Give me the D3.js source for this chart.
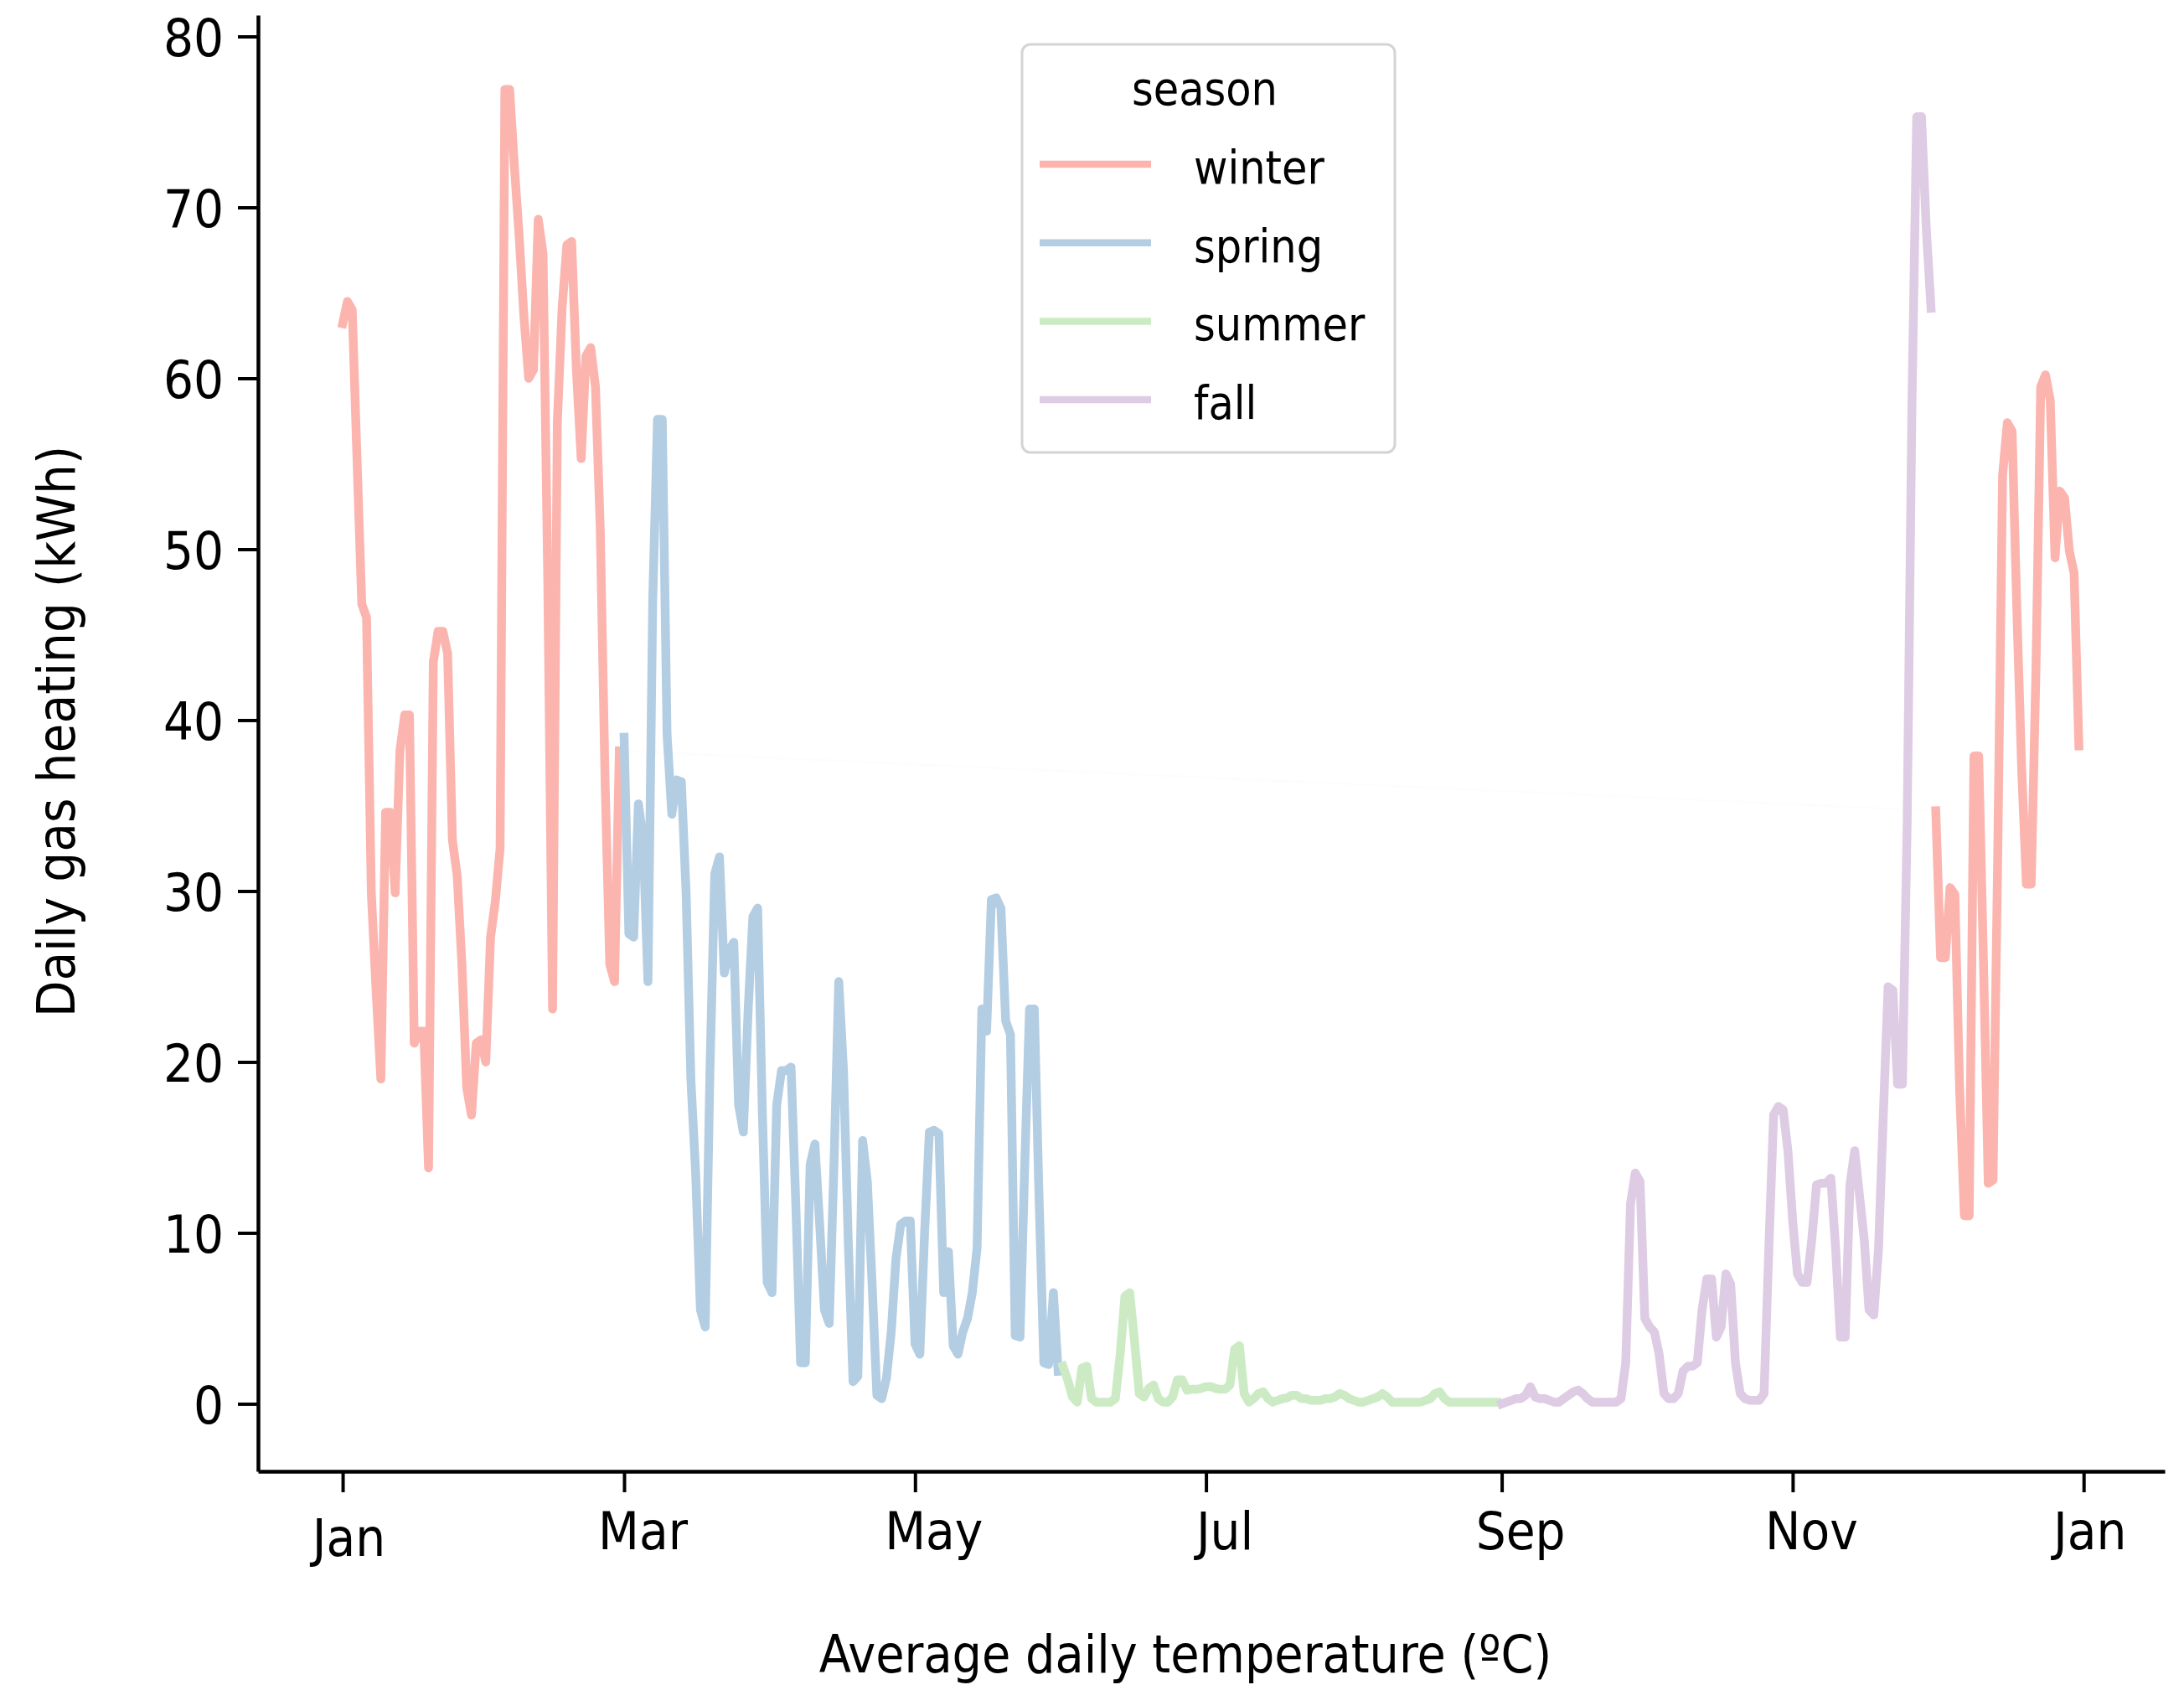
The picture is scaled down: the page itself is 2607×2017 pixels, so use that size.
<!DOCTYPE html>
<html>
<head>
<meta charset="utf-8">
<script src="https://cdn.jsdelivr.net/npm/d3@7"></script>
<style>
  body { margin: 0; background: #fff; }
  text { font-family: "DejaVu Sans Condensed", "DejaVu Sans", sans-serif; font-stretch: condensed; fill: #000; }
</style>
</head>
<body>
<div id="chart"></div>
<script>
const width = 2607;
const height = 2017;
let margin = { top: 18, right: 23, bottom: 261, left: 308 },
    plotWidth = width - margin.left - margin.right,
    plotHeight = height - margin.top - margin.bottom;

// seasons and Pastel1 colours
const seasons = ["winter", "spring", "summer", "fall"];
const seasonColors = ["#fbb4ae", "#b3cde3", "#ccebc5", "#decbe4"];

// x ticks (first of every other month) and y ticks
const monthTicks = ["2019-01-01", "2019-03-01", "2019-05-01", "2019-07-01", "2019-09-01", "2019-11-01", "2020-01-01"];
const yTicks = [0, 10, 20, 30, 40, 50, 60, 70, 80];

// daily gas heating (kWh), one value per consecutive day from each start date
const winterJanFebStart = "2019-01-01";
const winterJanFeb = [
  63.2, 64.5, 64.0, 55.3, 46.8, 46.0, 29.9, 24.2, 19.0, 34.6,
  34.6, 29.9, 38.2, 40.3, 40.3, 21.1, 21.8, 21.8, 13.8, 43.4,
  45.2, 45.2, 43.9, 33.0, 30.9, 25.7, 18.5, 16.9, 21.1, 21.3,
  20.0, 27.3, 29.4, 32.5, 76.9, 76.9, 72.4, 68.3, 63.6, 60.0,
  60.5, 69.3, 67.3, 48.1, 23.1, 57.4, 64.1, 67.8, 68.0, 60.5,
  55.3, 61.3, 61.8, 59.5, 51.2, 36.6, 25.7, 24.7, 38.2
];
const springStart = "2019-03-01";
const spring = [
  39.0, 27.5, 27.3, 35.1, 33.0, 24.7, 47.0, 57.6, 57.6, 39.2,
  34.5, 36.5, 36.4, 29.9, 19.0, 13.5, 5.5, 4.5, 19.5, 31.0,
  32.0, 25.2, 26.5, 27.0, 17.5, 15.9, 23.0, 28.5, 29.0, 16.9,
  7.1, 6.5, 17.5, 19.5, 19.5, 19.7, 11.7, 2.4, 2.4, 14.0,
  15.2, 10.5, 5.5, 4.7, 14.0, 24.7, 19.5, 9.5, 1.3, 1.6,
  15.4, 13.0, 7.0, 0.5, 0.3, 1.5, 4.2, 8.5, 10.5, 10.7,
  10.7, 3.5, 2.9, 10.0, 15.9, 16.0, 15.8, 6.5, 8.9, 3.4,
  2.9, 4.2, 5.0, 6.5, 9.1, 23.1, 21.8, 29.5, 29.6, 29.0,
  22.4, 21.6, 4.0, 3.9, 14.0, 23.1, 23.1, 12.0, 2.4, 2.3,
  6.5, 1.9
];
const summerStart = "2019-06-01";
const summer = [
  2.2, 1.4, 0.4, 0.1, 2.1, 2.2, 0.3, 0.1, 0.1, 0.1,
  0.1, 0.3, 2.9, 6.3, 6.5, 3.7, 0.6, 0.4, 0.9, 1.1,
  0.3, 0.1, 0.1, 0.4, 1.4, 1.4, 0.8, 0.85, 0.85, 0.9,
  1.0, 1.0, 0.9, 0.85, 0.85, 1.1, 3.2, 3.4, 0.6, 0.1,
  0.3, 0.6, 0.7, 0.3, 0.1, 0.2, 0.3, 0.35, 0.5, 0.5,
  0.3, 0.3, 0.2, 0.2, 0.2, 0.3, 0.3, 0.4, 0.6, 0.5,
  0.3, 0.2, 0.1, 0.1, 0.2, 0.3, 0.4, 0.6, 0.4, 0.1,
  0.1, 0.1, 0.1, 0.1, 0.1, 0.1, 0.2, 0.3, 0.6, 0.7,
  0.3, 0.1, 0.1, 0.1, 0.1, 0.1, 0.1, 0.1, 0.1, 0.1,
  0.1, 0.1
];
const fallStart = "2019-09-01";
const fall = [
  0.0, 0.1, 0.2, 0.3, 0.3, 0.5, 1.0, 0.4, 0.3, 0.3,
  0.2, 0.1, 0.1, 0.3, 0.5, 0.7, 0.8, 0.6, 0.3, 0.1,
  0.1, 0.1, 0.1, 0.1, 0.1, 0.3, 2.4, 11.7, 13.5, 13.0,
  5.0, 4.5, 4.2, 2.9, 0.6, 0.3, 0.3, 0.6, 1.9, 2.2,
  2.2, 2.4, 5.5, 7.3, 7.3, 3.9, 4.5, 7.6, 7.0, 2.4,
  0.6, 0.3, 0.2, 0.2, 0.2, 0.6, 9.1, 16.9, 17.4, 17.2,
  14.8, 10.7, 7.6, 7.1, 7.1, 9.6, 12.8, 12.9, 12.9, 13.2,
  9.1, 3.9, 3.9, 12.8, 14.8, 12.2, 9.6, 5.5, 5.2, 9.1,
  16.9, 24.4, 24.2, 18.7, 18.7, 34.0, 58.4, 75.3, 75.3, 68.8,
  64.1
];
const winterDecStart = "2019-12-01";
const winterDec = [
  34.7, 26.1, 26.1, 30.2, 29.8, 18.4, 11.0, 11.0, 37.9, 37.9,
  25.8, 12.9, 13.1, 32.4, 54.3, 57.4, 56.9, 46.4, 37.2, 30.4,
  30.4, 42.9, 59.5, 60.2, 58.7, 49.5, 53.4, 53.0, 49.9, 48.6,
  38.5
];

const parseDate = d3.utcParse("%Y-%m-%d");
function toPoints(start, values) {
  const s = parseDate(start);
  return values.map((v, i) => ({ date: d3.utcDay.offset(s, i), value: v }));
}

const runs = [
  { season: "winter", points: toPoints(winterJanFebStart, winterJanFeb) },
  { season: "spring", points: toPoints(springStart, spring) },
  { season: "summer", points: toPoints(summerStart, summer) },
  { season: "fall", points: toPoints(fallStart, fall) },
  { season: "winter", points: toPoints(winterDecStart, winterDec) }
];

const color = d3.scaleOrdinal().domain(seasons).range(seasonColors);

const jan1 = parseDate("2019-01-01");
const dayMs = 864e5;
const x = d3.scaleUtc()
  .domain([new Date(+jan1 - 17.75 * dayMs), new Date(+jan1 + 382 * dayMs)])
  .range([0, plotWidth]);
const y = d3.scaleLinear()
  .domain([-3.95, 81.25])
  .range([plotHeight, 0]);

const svg = d3.select("#chart").append("svg")
  .attr("width", width)
  .attr("height", height)
  .style("background", "#fff");

const g = svg.append("g")
  .attr("transform", `translate(${margin.left}, ${margin.top})`);

const line = d3.line()
  .x(d => x(d.date))
  .y(d => y(d.value));

// winter is one series, so its two runs are joined by a (barely visible) line
const winterAll = runs.filter(r => r.season === "winter").flatMap(r => r.points);
g.append("path")
  .datum(winterAll)
  .attr("d", line)
  .attr("fill", "none")
  .attr("stroke", color("winter"))
  .attr("stroke-opacity", 0.04)
  .attr("stroke-width", 3);

g.selectAll(".season-line")
  .data(runs)
  .join("path")
  .attr("class", "season-line")
  .attr("d", r => line(r.points))
  .attr("fill", "none")
  .attr("stroke", r => color(r.season))
  .attr("stroke-width", 10.5)
  .attr("stroke-linejoin", "round")
  .attr("stroke-linecap", "square");

// y axis
const yAxis = g.append("g")
  .call(d3.axisLeft(y).tickValues(yTicks).tickSize(24).tickSizeOuter(0).tickPadding(17));
yAxis.select(".domain").attr("stroke", "#000").attr("stroke-width", 4.5);
yAxis.selectAll(".tick line").attr("stroke", "#000").attr("stroke-width", 4);
yAxis.selectAll(".tick text")
  .attr("font-size", 63)
  .attr("dy", "0.36em")
  .style("font-family", null);

// x axis
const xAxis = g.append("g")
  .attr("transform", `translate(0, ${plotHeight})`)
  .call(d3.axisBottom(x)
    .tickValues(monthTicks.map(parseDate))
    .tickFormat(d3.utcFormat("%b"))
    .tickSize(25).tickSizeOuter(0).tickPadding(23));
xAxis.select(".domain").attr("stroke", "#000").attr("stroke-width", 4.5);
xAxis.selectAll(".tick line").attr("stroke", "#000").attr("stroke-width", 4);
xAxis.selectAll(".tick text")
  .attr("font-size", 63)
  .attr("dx", d => d3.utcFormat("%b")(d) === "Jan" ? 7 : 22)
  .attr("y", (d, i) => i === 0 ? 56 : 48);

// axis titles
svg.append("text")
  .attr("x", 1415)
  .attr("y", 1996)
  .attr("text-anchor", "middle")
  .attr("font-size", 62)
  .text("Average daily temperature (ºC)");

svg.append("text")
  .attr("transform", "translate(89, 873) rotate(-90)")
  .attr("text-anchor", "middle")
  .attr("font-size", 63)
  .text("Daily gas heating (kWh)");

// legend
const legend = svg.append("g").attr("transform", "translate(1220, 53)");
legend.append("rect")
  .attr("width", 445)
  .attr("height", 487)
  .attr("rx", 10)
  .attr("fill", "#fff")
  .attr("stroke", "#d4d4d4")
  .attr("stroke-width", 3);
legend.append("text")
  .attr("x", 218)
  .attr("y", 72)
  .attr("text-anchor", "middle")
  .attr("font-size", 55)
  .text("season");
const items = legend.selectAll(".item")
  .data(seasons)
  .join("g")
  .attr("class", "item")
  .attr("transform", (d, i) => `translate(0, ${143 + i * 93.7})`);
items.append("line")
  .attr("x1", 21)
  .attr("x2", 154)
  .attr("stroke", d => color(d))
  .attr("stroke-width", 8.5);
items.append("text")
  .attr("x", 205)
  .attr("y", 23)
  .attr("font-size", 55)
  .text(d => d);
</script>
</body>
</html>
